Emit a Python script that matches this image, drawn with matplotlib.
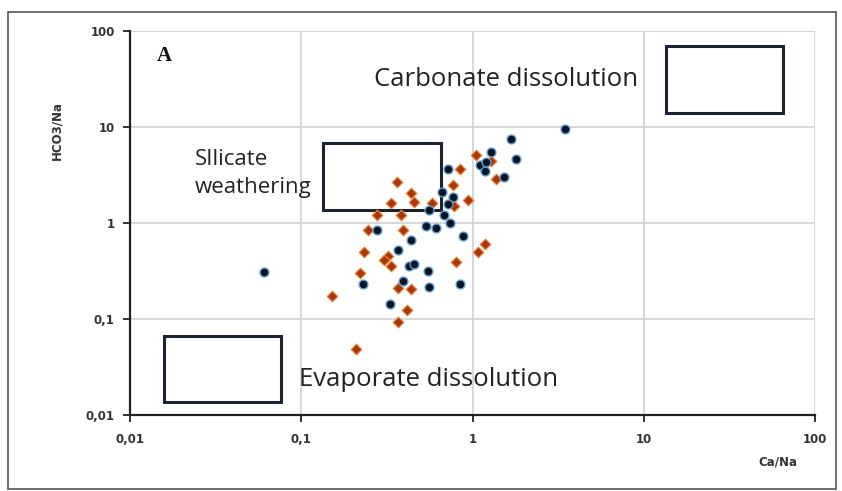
import matplotlib
matplotlib.use("Agg")
import matplotlib.pyplot as plt
from matplotlib.patches import Rectangle
from matplotlib.ticker import FixedLocator, FixedFormatter

# Ca/Na vs HCO3/Na, group 1 (dark circles)
dark_ca = [3.45, 1.67, 1.28, 1.79, 1.11, 1.20, 1.18, 1.52, 0.72, 0.66,
           0.765, 0.72, 0.56, 0.68, 0.535, 0.615, 0.74, 0.875, 0.277, 0.437,
           0.366, 0.425, 0.455, 0.55, 0.395, 0.557, 0.85, 0.228, 0.332, 0.061]
dark_hco3 = [9.47, 7.46, 5.42, 4.63, 4.01, 4.27, 3.50, 3.01, 3.65, 2.10,
             1.86, 1.58, 1.36, 1.20, 0.93, 0.89, 0.99, 0.73, 0.84, 0.667,
             0.523, 0.354, 0.371, 0.317, 0.248, 0.213, 0.231, 0.231, 0.143, 0.305]

# group 2 (orange diamonds)
orange_ca = [1.045, 1.29, 0.85, 1.37, 0.362, 0.765, 0.437, 0.945, 0.334, 0.453,
             0.577, 0.78, 0.277, 0.382, 0.245, 0.391, 0.234, 1.18, 1.078, 0.322,
             0.303, 0.334, 0.80, 0.2215, 0.369, 0.44, 0.151, 0.414, 0.369, 0.209]
orange_hco3 = [5.04, 4.41, 3.65, 2.87, 2.65, 2.48, 2.06, 1.73, 1.61, 1.66,
               1.62, 1.50, 1.20, 1.20, 0.846, 0.846, 0.50, 0.60, 0.50, 0.457,
               0.41, 0.352, 0.387, 0.303, 0.211, 0.205, 0.174, 0.123, 0.093, 0.049]

# domain boxes: (x0, x1, y0, y1) in data units
box_carbonate = (13.4, 65.0, 14.0, 70.0)
box_silicate = (0.134, 0.653, 1.36, 6.7)
box_evaporate = (0.0157, 0.0757, 0.0135, 0.0667)

ticks = [0.01, 0.1, 1, 10, 100]
tick_labels = ["0,01", "0,1", "1", "10", "100"]

fig = plt.figure(figsize=(8.42, 4.91), dpi=100)
ax = fig.add_axes([130 / 842, 1 - 415 / 491, 685 / 842, 384.3 / 491])

ax.set_xscale("log")
ax.set_yscale("log")
ax.set_xlim(0.01, 100)
ax.set_ylim(0.01, 100)

ax.grid(True, which="major", color="#d4d4d4", lw=1.3)
ax.set_axisbelow(True)
for s in ["top", "right"]:
    ax.spines[s].set_visible(False)
for s in ["left", "bottom"]:
    ax.spines[s].set_color("#222222")
    ax.spines[s].set_linewidth(1.6)

for axis in (ax.xaxis, ax.yaxis):
    axis.set_major_locator(FixedLocator(ticks))
    axis.set_major_formatter(FixedFormatter(tick_labels))
    axis.set_minor_locator(FixedLocator([]))
ax.tick_params(axis="both", which="major", length=5, width=1.3, color="#222222",
               labelsize=8.5)
ax.tick_params(axis="x", pad=8)
ax.tick_params(axis="y", pad=6)
for lab in ax.get_xticklabels() + ax.get_yticklabels():
    lab.set_fontweight("bold")
    lab.set_color("#333333")

# boxes
for (x0, x1, y0, y1) in (box_carbonate, box_silicate, box_evaporate):
    ax.add_patch(Rectangle((x0, y0), x1 - x0, y1 - y0, fill=False,
                           edgecolor="#1b2230", lw=2.2, zorder=2))

ax.scatter(dark_ca, dark_hco3, s=40, marker="o", color="#0b1420",
           edgecolors="#5b9bd5", linewidths=1.0, zorder=4)
ax.scatter(orange_ca, orange_hco3, s=30, marker="D", color="#a8380c",
           edgecolors="#f08a3c", linewidths=0.8, zorder=3)

txt = dict(color="#222222", family="Open Sans")
ax.text(0.266, 30.7, "Carbonate dissolution", ha="left", va="center",
        fontsize=18.5, **txt)
ax.text(0.0238, 3.26, "SIlicate\nweathering", ha="left", va="center",
        linespacing=1.4, fontsize=16, **txt)
ax.text(0.0974, 0.0233, "Evaporate dissolution", ha="left", va="center",
        fontsize=18.5, **txt)
ax.text(0.0143, 54.4, "A", ha="left", va="center", fontsize=15,
        fontweight="bold", family="Liberation Serif", color="#111111")

fig.text(57 / 842, 1 - 130 / 491, "HCO3/Na", rotation=90, ha="center",
         va="center", fontsize=8.5, fontweight="bold", color="#333333")
fig.text(778 / 842, 1 - 462 / 491, "Ca/Na", ha="center", va="center",
         fontsize=8.5, fontweight="bold", color="#333333")

fig.patches.append(Rectangle((7.5 / 842, 1 - 489 / 491), 828 / 842, 477 / 491,
                             transform=fig.transFigure, fill=False,
                             edgecolor="#555555", lw=1.2))

fig.savefig("out.png", dpi=100)
